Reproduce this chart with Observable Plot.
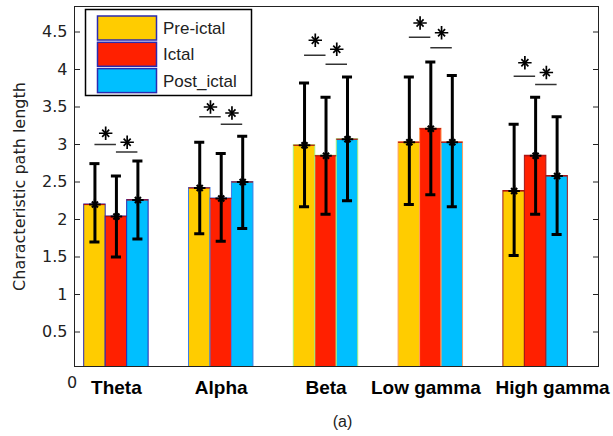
<!DOCTYPE html>
<html><head><meta charset="utf-8">
<script src="https://cdn.jsdelivr.net/npm/d3@7"></script>
<script src="https://cdn.jsdelivr.net/npm/@observablehq/plot@0.6"></script>
<style>body{margin:0;background:#fff} svg{display:block}</style>
</head><body><div id="chart"></div>
<script>
const bands = ["Theta","Alpha","Beta","Low gamma","High gamma"];
const phases = ["Pre-ictal","Ictal","Post_ictal"];
const phaseColors = ["#ffcc00","#ff2000","#00bfff"];
const edgeColors = ["#2a2ab0","#3d7fe6","#a8f07a","#ffa060","#a01818"];
const preMean   = [2.20, 2.42, 2.99, 3.03, 2.38];
const ictalMean = [2.04, 2.28, 2.85, 3.21, 2.85];
const postMean  = [2.26, 2.50, 3.07, 3.03, 2.58];
const preLow    = [1.70, 1.81, 2.17, 2.20, 1.52];
const preHigh   = [2.745, 3.03, 3.82, 3.90, 3.27];
const ictalLow  = [1.50, 1.71, 2.07, 2.33, 2.07];
const ictalHigh = [2.58, 2.88, 3.63, 4.10, 3.63];
const postLow   = [1.74, 1.88, 2.25, 2.17, 1.80];
const postHigh  = [2.78, 3.11, 3.90, 3.92, 3.37];
const sigLine1  = [3.00, 3.37, 4.19, 4.43, 3.91];
const sigStar1  = [3.15, 3.50, 4.39, 4.62, 4.09];
const sigLine2  = [2.90, 3.27, 4.07, 4.29, 3.80];
const sigStar2  = [3.03, 3.42, 4.27, 4.49, 3.96];
const yTicks = [0.5, 1, 1.5, 2, 2.5, 3, 3.5, 4, 4.5];
const yLabel = "Characteristic path length";

const means = [preMean, ictalMean, postMean];
const lows = [preLow, ictalLow, postLow];
const highs = [preHigh, ictalHigh, postHigh];
const step = 0.205;
const rows = [];
bands.forEach((b, i) => phases.forEach((p, j) => {
  const x = i + 1 + (j - 1) * step;
  rows.push({band: b, bi: i, phase: p, pj: j, x, x1: x - step / 2, x2: x + step / 2,
    mean: means[j][i], low: lows[j][i], high: highs[j][i]});
}));
const sig = bands.map((b, i) => ({band: b, g: i + 1, l1: sigLine1[i], s1: sigStar1[i], l2: sigLine2[i], s2: sigStar2[i]}));
const capW = 0.048;
const font = "DejaVu Sans";

// Matlab-style '*' marker = plus + times
const star = (data, opts, r, sw) => [
  Plot.dot(data, {...opts, symbol: "plus", r: r, stroke: "#000", strokeWidth: sw}),
  Plot.dot(data, {...opts, symbol: "times", r: r * 0.75, stroke: "#000", strokeWidth: sw})
];

const plot = Plot.plot({
  width: 613, height: 436,
  marginLeft: 74, marginRight: 15, marginTop: 6, marginBottom: 70,
  style: {fontFamily: font, background: "#fff"},
  x: {domain: [0.6, 5.6], axis: null},
  y: {domain: [0.04, 4.84], axis: null},
  color: {type: "identity"},
  marks: [
    Plot.rectY(rows, {x1: "x1", x2: "x2", y1: 0, y2: "mean", fill: d => phaseColors[d.pj], stroke: d => edgeColors[d.bi], strokeWidth: 1, clip: true}),
    Plot.ruleY(rows, {y: "mean", x1: "x1", x2: "x2", stroke: "#b01010", strokeWidth: 1.2}),
    Plot.ruleX(rows, {x: "x", y1: "low", y2: "high", stroke: "#000", strokeWidth: 3}),
    Plot.ruleY(rows, {y: "low", x1: d => d.x - capW, x2: d => d.x + capW, stroke: "#000", strokeWidth: 3}),
    Plot.ruleY(rows, {y: "high", x1: d => d.x - capW, x2: d => d.x + capW, stroke: "#000", strokeWidth: 3}),
    ...star(rows, {x: "x", y: "mean"}, 3.8, 2.2),
    Plot.ruleY(sig, {y: "l1", x1: d => d.g - step, x2: d => d.g, stroke: "#333", strokeWidth: 1.5}),
    Plot.ruleY(sig, {y: "l2", x1: d => d.g, x2: d => d.g + step, stroke: "#333", strokeWidth: 1.5}),
    ...star(sig, {x: d => d.g - step / 2, y: "s1"}, 4.4, 1.7),
    ...star(sig, {x: d => d.g + step / 2, y: "s2"}, 4.4, 1.7),
    Plot.frame({stroke: "#222", strokeWidth: 1}),
    Plot.axisY({ticks: yTicks, tickSize: -6, tickFormat: () => "", stroke: "#222", label: null}),
    Plot.axisY({anchor: "right", ticks: yTicks, tickSize: -6, tickFormat: () => "", stroke: "#222", label: null}),
    Plot.axisY({ticks: yTicks, tickSize: 0, tickPadding: 7, tickFormat: d => String(d), fontSize: 16, fontFamily: font, fill: "#222", label: null}),
    Plot.axisX({ticks: [1, 2, 3, 4, 5], tickFormat: d => bands[d - 1], tickSize: 0, tickPadding: 14, fontSize: 19, fontWeight: "bold", fontFamily: "Liberation Sans", fill: "#000", label: null}),
    Plot.text(["0"], {frameAnchor: "bottom-left", textAnchor: "middle", dx: -2.5, dy: 16, lineAnchor: "middle", fontSize: 16, fill: "#222"}),
    Plot.text([yLabel], {frameAnchor: "left", textAnchor: "middle", rotate: -90, dx: -55, fontSize: 16, fill: "#222"}),
    Plot.text(["(a)"], {frameAnchor: "bottom", textAnchor: "middle", dx: 6, dy: 55, lineAnchor: "middle", fontSize: 16, fontFamily: "Liberation Sans", fill: "#222"})
  ]
});
document.getElementById("chart").append(plot);

const svg = d3.select(plot);
// nudge the two long band labels apart, as in the original figure
svg.selectAll("text").each(function() {
  const t = this.textContent;
  if (t === "Low gamma") d3.select(this).attr("dx", -5);
  if (t === "High gamma") d3.select(this).attr("dx", 17);
});

// legend inside the axes
const lg = svg.append("g").attr("font-family", "Liberation Sans").attr("font-size", 17).attr("text-anchor", "start");
lg.append("rect").attr("x", 85.5).attr("y", 9.5).attr("width", 166).attr("height", 86).attr("fill", "#fff").attr("stroke", "#000").attr("stroke-width", 1.5);
phases.forEach((p, j) => {
  const y = 16 + j * 26.3;
  lg.append("rect").attr("x", 97.5).attr("y", y).attr("width", 59).attr("height", 24).attr("fill", phaseColors[j]).attr("stroke", "#2a2ab0").attr("stroke-width", 1.5);
  lg.append("text").attr("x", 163).attr("y", y + 18).attr("fill", "#222").text(p);
});
</script></body></html>
